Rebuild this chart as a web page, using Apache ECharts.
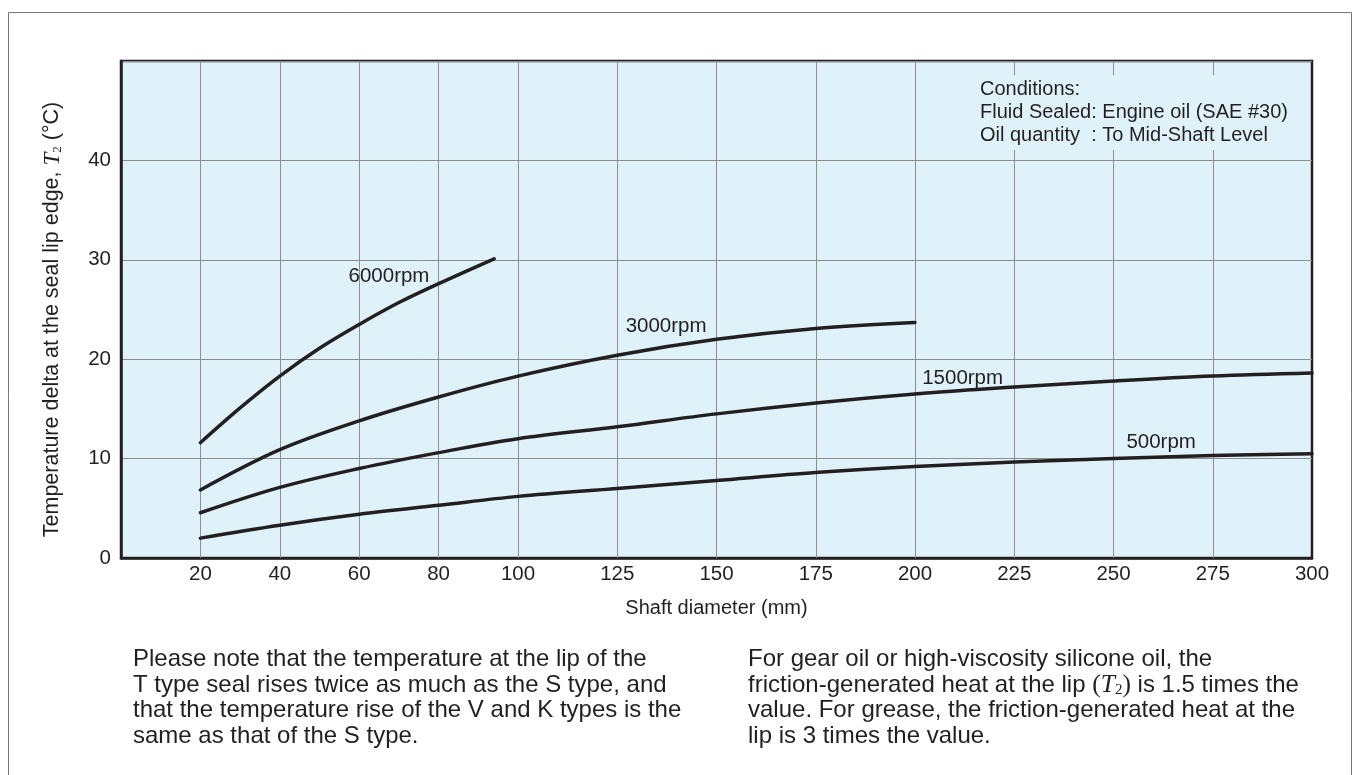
<!DOCTYPE html>
<html><head><meta charset="utf-8">
<script src="https://cdn.jsdelivr.net/npm/echarts@6/dist/echarts.min.js"></script>
<style>html,body{margin:0;padding:0;background:#fff}#c{width:1354px;height:775px}</style>
</head><body><div id="c"></div>
<script>
const xTicks = [20, 40, 60, 80, 100, 125, 150, 175, 200, 225, 250, 275, 300];
const yTicks = [0, 10, 20, 30, 40];
const s6000 = [[20,11.6],[30,15.1],[40,18.3],[50,21.1],[60,23.5],[70,25.7],[80,27.6],[94,30.1]];
const s3000 = [[20,6.85],[40,10.9],[60,13.8],[80,16.2],[100,18.3],[125,20.4],[150,22.0],[175,23.1],[200,23.7]];
const s1500 = [[20,4.55],[40,7.1],[60,9.0],[80,10.6],[100,12.0],[125,13.2],[150,14.5],[175,15.6],[200,16.5],[225,17.2],[250,17.8],[275,18.3],[300,18.6]];
const s500  = [[20,2.0],[40,3.3],[60,4.4],[80,5.3],[100,6.2],[125,7.0],[150,7.8],[175,8.6],[200,9.2],[225,9.65],[250,10.0],[275,10.3],[300,10.5]];
const seriesNames = ['6000rpm', '3000rpm', '1500rpm', '500rpm'];
const labelAt = [[67.5, 28.35], [137.3, 23.35], [212, 18.1], [262, 11.6]];
const conditions = ['Conditions:', 'Fluid Sealed: Engine oil (SAE #30)', 'Oil quantity  : To Mid-Shaft Level'];
const noteLeft = ['Please note that the temperature at the lip of the', 'T type seal rises twice as much as the S type, and', 'that the temperature rise of the V and K types is the', 'same as that of the S type.'];
const noteRight = ['For gear oil or high-viscosity silicone oil, the', 'friction-generated heat at the lip {p|(}{t|T}{s|2}{p|)} is 1.5 times the', 'value. For grease, the friction-generated heat at the', 'lip is 3 times the value.'];

const INK = '#231f20';
const FONT = 'Liberation Sans, Arial, sans-serif';
const SERIF = 'Liberation Serif, DejaVu Serif, serif';
const chart = echarts.init(document.getElementById('c'), null, {renderer: 'canvas'});
const allData = [s6000, s3000, s1500, s500];

const curveSeries = allData.map((d, i) => ({
  name: seriesNames[i], type: 'line', data: d, smooth: 0.35, symbol: 'none', z: 5,
  lineStyle: {color: INK, width: 3.5, cap: 'round', join: 'round'},
  markPoint: {
    symbol: 'circle', symbolSize: 0, silent: true,
    label: {show: true, position: 'inside', formatter: seriesNames[i], color: INK, fontSize: 20.5, fontFamily: FONT},
    data: [{coord: labelAt[i]}]
  }
}));

function richFor(size) {
  return {
    t: {fontFamily: SERIF, fontStyle: 'italic', fontSize: size + 1.5, color: INK},
    s: {fontFamily: SERIF, fontSize: Math.round(size * 0.62), color: INK, verticalAlign: 'bottom', padding: [Math.round(size * 0.4), 0, 0, 0]},
    p: {fontFamily: SERIF, fontSize: size + 1.5, color: INK}
  };
}

chart.setOption({
  animation: false,
  backgroundColor: '#fff',
  grid: {left: 121, right: 42, top: 61, bottom: 217, show: true, backgroundColor: '#dff2fa', borderColor: INK, borderWidth: 2.5},
  xAxis: {
    type: 'value', min: 0, max: 300, interval: 5,
    name: 'Shaft diameter (mm)', nameLocation: 'middle', nameGap: 40,
    nameTextStyle: {color: INK, fontSize: 20, fontFamily: FONT},
    axisLine: {show: true, lineStyle: {color: INK, width: 2.5}},
    axisTick: {show: false}, splitLine: {show: false},
    axisLabel: {color: INK, fontSize: 20.5, fontFamily: FONT, margin: 6,
      formatter: v => xTicks.indexOf(v) >= 0 ? String(v) : ''}
  },
  yAxis: {
    type: 'value', min: 0, max: 50, interval: 10,
    name: 'Temperature delta at the seal lip edge, {t|T}{s|2} (°C)', nameLocation: 'middle', nameGap: 57,
    nameTextStyle: {color: INK, fontSize: 21.5, fontFamily: FONT, rich: richFor(21.5), padding: [0, 20, 0, 0]},
    axisLine: {show: true, lineStyle: {color: INK, width: 2.5}},
    axisTick: {show: false},
    splitLine: {show: true, lineStyle: {color: '#8e8e8e', width: 1}},
    axisLabel: {color: INK, fontSize: 20.5, fontFamily: FONT, margin: 10,
      formatter: v => yTicks.indexOf(v) >= 0 ? String(v) : ''}
  },
  series: [{
    type: 'line', data: [], z: 1, silent: true,
    markLine: {silent: true, symbol: 'none', label: {show: false},
      lineStyle: {color: '#8e8e8e', width: 1, type: 'solid'},
      data: xTicks.filter(v => v < 300).map(v => ({xAxis: v}))}
  }].concat(curveSeries),
  graphic: [
    {type: 'rect', z: 0, shape: {x: 8.5, y: 12.5, width: 1343, height: 780}, style: {fill: null, stroke: '#7a7a7a', lineWidth: 1}},
    {type: 'text', z: 50, left: 976, top: 75, style: {text: conditions.join('\n'), fill: INK, font: '20px ' + FONT, lineHeight: 23, backgroundColor: '#dff2fa', padding: [3, 4, 3, 4]}},
    {type: 'text', z: 50, left: 133, top: 647, style: {text: noteLeft.join('\n'), fill: INK, font: '24px ' + FONT, lineHeight: 25.5}},
    {type: 'text', z: 50, left: 748, top: 647, style: {text: noteRight.join('\n'), fill: INK, font: '24px ' + FONT, fontSize: 24, fontFamily: FONT, lineHeight: 25.5, rich: richFor(24)}}
  ]
});
</script></body></html>
